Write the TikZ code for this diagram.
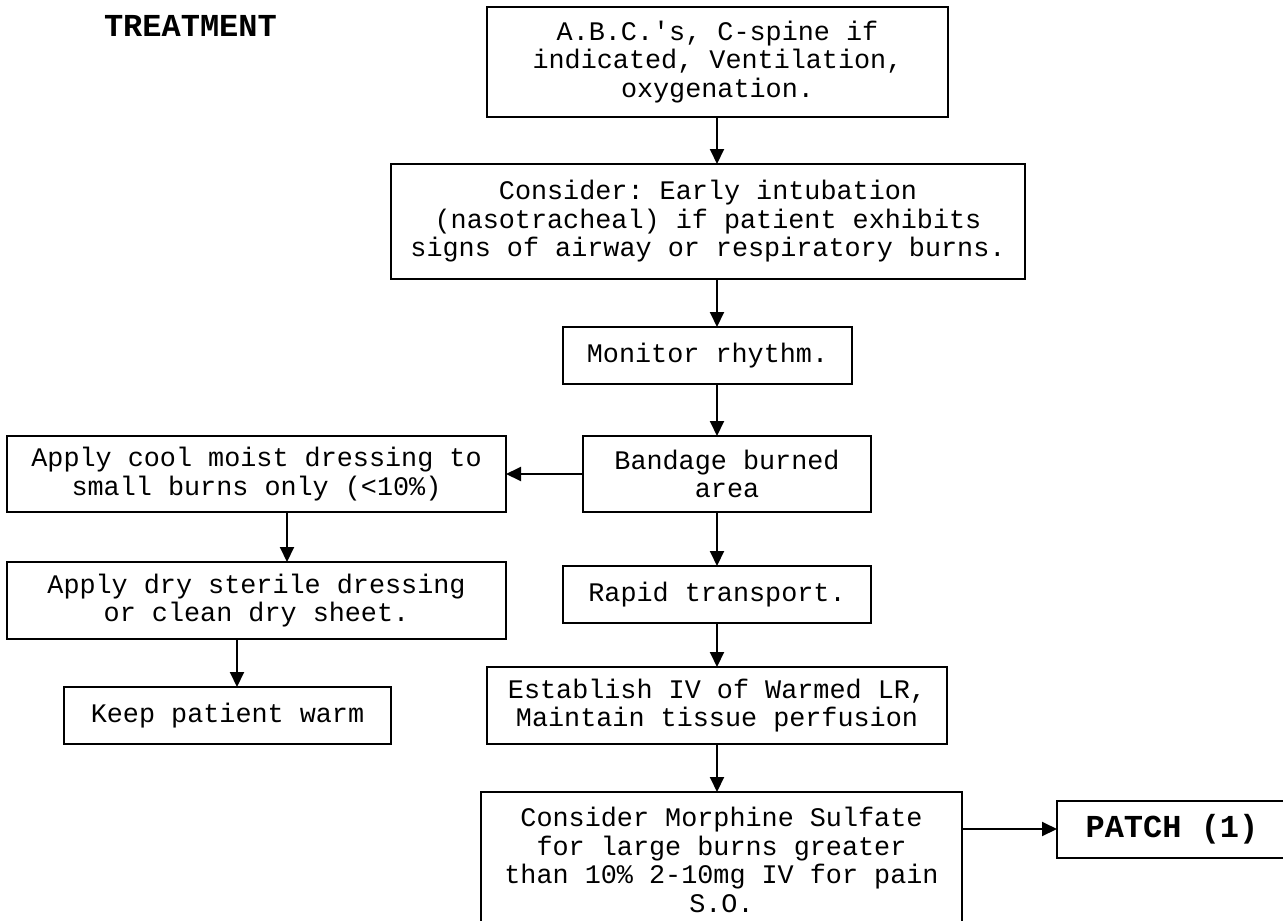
\documentclass[tikz,border=0pt]{standalone}
\usepackage{fontspec}
\setmonofont{Liberation Mono}
\usetikzlibrary{arrows.meta}

\begin{document}
\begin{tikzpicture}[x=1pt,y=-1pt,
  every node/.style={inner sep=0pt, outer sep=0pt},
  stepbox/.style={draw, line width=2pt, align=center,
    font=\ttfamily\fontsize{26.8}{28.5}\selectfont},
  headtxt/.style={font=\ttfamily\bfseries\fontsize{32}{34}\selectfont},
  flow/.style={line width=2pt, -{Triangle[length=15pt,width=14pt]}}]

  % page frame
  \useasboundingbox (0,0) rectangle (1283,921);
  \clip (0,0) rectangle (1283,921);

  % heading
  \node[headtxt, anchor=base west] (title) at (104,36) {TREATMENT};

  % main column
  \node[stepbox, minimum width=461pt, minimum height=110pt] (abc) at (717.5,62)
    {A.B.C.'s, C-spine if\\indicated, Ventilation,\\oxygenation.};
  \node[stepbox, minimum width=634pt, minimum height=115pt] (intub) at (708,221.5)
    {Consider: Early intubation\\(nasotracheal) if patient exhibits\\signs of airway or respiratory burns.};
  \node[stepbox, minimum width=289pt, minimum height=57pt] (monitor) at (707.5,355.5)
    {Monitor rhythm.};
  \node[stepbox, minimum width=288pt, minimum height=76pt] (bandage) at (727,474)
    {Bandage burned\\area};
  \node[stepbox, minimum width=308pt, minimum height=57pt] (rapid) at (717,594.5)
    {Rapid transport.};
  \node[stepbox, minimum width=460pt, minimum height=77pt] (iv) at (717,705.5)
    {Establish IV of Warmed LR,\\Maintain tissue perfusion};
  \node[stepbox, minimum width=481pt, minimum height=136pt, anchor=north] (morph) at (721.5,792)
    {Consider Morphine Sulfate\\for large burns greater\\than 10\% 2-10mg IV for pain\\S.O.};
  \node[stepbox, minimum width=236pt, minimum height=57pt, anchor=west,
        font=\ttfamily\bfseries\fontsize{32}{34}\selectfont] (patch) at (1057,829)
    {PATCH (1)\hspace*{6pt}};

  % side column
  \node[stepbox, minimum width=499pt, minimum height=76pt] (cool) at (256.5,474)
    {Apply cool moist dressing to\\small burns only (<10\%)};
  \node[stepbox, minimum width=499pt, minimum height=77pt] (dry) at (256.5,600.5)
    {Apply dry sterile dressing\\or clean dry sheet.};
  \node[stepbox, minimum width=327pt, minimum height=57pt] (warm) at (227.5,715.5)
    {Keep patient warm};

  % arrow columns
  \coordinate (spine) at (717,0);
  \coordinate (colA) at (287,0);
  \coordinate (colB) at (237,0);

  % connectors
  \draw[flow] (abc.south -| spine) -- (intub.north -| spine);
  \draw[flow] (intub.south -| spine) -- (monitor.north -| spine);
  \draw[flow] (monitor.south -| spine) -- (bandage.north -| spine);
  \draw[flow] (bandage.south -| spine) -- (rapid.north -| spine);
  \draw[flow] (rapid.south -| spine) -- (iv.north -| spine);
  \draw[flow] (iv.south -| spine) -- (morph.north -| spine);
  \draw[flow] (bandage.west) -- (cool.east);
  \draw[flow] (cool.south -| colA) -- (dry.north -| colA);
  \draw[flow] (dry.south -| colB) -- (warm.north -| colB);
  \draw[flow] (morph.east |- patch.west) -- (patch.west);
\end{tikzpicture}
\end{document}
